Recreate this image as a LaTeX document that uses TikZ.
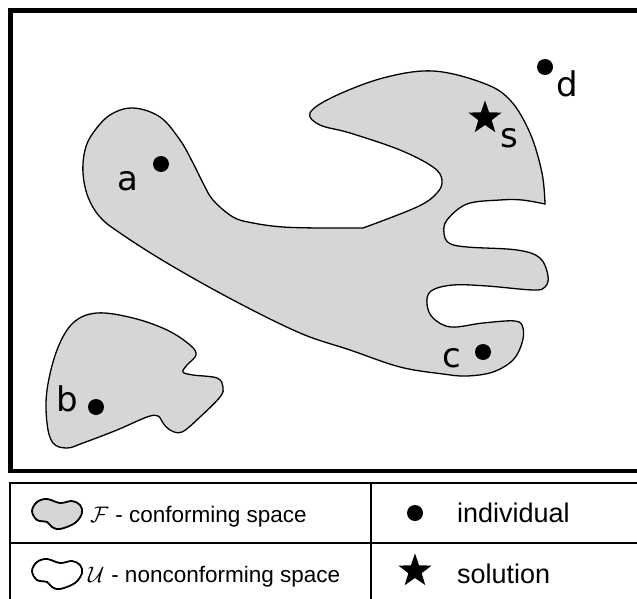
\RequirePackage{fix-cm}
\documentclass[tikz,border=0pt]{standalone}
\usepackage{amsmath}
\usepackage{amssymb}
\usepackage{fontspec}
\setmainfont{Liberation Sans}
\newfontfamily\lblfont{DejaVu Sans}
\usetikzlibrary{shapes.geometric}
\definecolor{blobgray}{RGB}{214,214,214}

\begin{document}
\begin{tikzpicture}[x=1pt, y=-1pt,
		blob/.style={draw, line width=1.3pt, fill=blobgray},
		legblob/.style={draw, line width=1.8pt},
		pt/.style={circle, fill, inner sep=0pt, minimum size=16pt},
		sol/.style={star, star points=5, star point ratio=2.5, fill, inner sep=0pt, minimum size=35pt},
		lbl/.style={font={\lblfont\fontsize{34pt}{34pt}\selectfont}, inner sep=0pt},
		legl/.style={font={\fontsize{22.5pt}{24pt}\selectfont}, inner sep=0pt, anchor=base west},
		legr/.style={font={\fontsize{27pt}{28pt}\selectfont}, inner sep=0pt, anchor=base west}]
			\clip (0,0) rectangle (637,599);
			\draw[blob] plot[smooth, tension=0.6] coordinates {(363,228) (417,207) (437,193) (442,180) (433,167) (400,150) (350,133) (320,125) (310,113) (333,97) (383,78) (433,71) (483,83) (510,100) (530,133) (542,173) (545,204)}
				-- plot[smooth, tension=0.6] coordinates {(545,204) (522,200) (500,200) (467,204) (447,220) (444,233) (449,243) (467,247) (517,250) (540,258) (548,276) (545,287) (533,290) (487,286) (453,285) (431,291) (427,304) (433,318) (451,327) (483,323) (515,321) (523,328) (522,343) (513,360) (493,372) (467,376) (443,374) (400,367) (350,350) (300,333) (233,300) (167,263) (120,233) (100,217) (88,197) (83,173) (85,150) (93,133) (110,115) (133,108) (160,117) (180,140) (193,163) (203,183) (213,200) (233,217) (253,223) (283,227) (320,228)} -- cycle;
			\draw[blob] plot[smooth cycle, tension=0.6] coordinates {(97,313) (133,318) (167,330) (190,345) (196,355) (187,365) (183,372) (193,375) (217,378) (223,387) (220,397) (200,417) (182,432) (170,430) (163,423) (158,416) (147,417) (117,430) (83,443) (67,448) (53,443) (47,423) (47,390) (57,350) (73,323)};
			\node[pt] (a) at (161,164) {};
			\node[pt] (b) at (96,407) {};
			\node[pt] (c) at (483,352) {};
			\node[pt] (d) at (545,67) {};
			\node[sol] (s) at (485,118) {};
			\node[lbl] (la) at (127.5,181) {a};
			\node[lbl] (lb) at (67,399) {b};
			\node[lbl] (lc) at (452,358) {c};
			\node[lbl] (ld) at (567.5,83.5) {d};
			\node[lbl] (ls) at (509,138) {s};
			\draw[line width=4.5pt] (10.5,10.5) rectangle (660,471);
			\draw[line width=1.5pt] (10,483) rectangle (660,620);
			\draw[line width=1.5pt] (10,543) -- (660,543);
			\draw[line width=1.5pt] (371,483) -- (371,620);
			\foreach \dy/\col in {0/blobgray,60/white}
				\draw[legblob, fill=\col, shift={(0,\dy)}] plot[smooth cycle, tension=0.6] coordinates {(32,511) (37,502) (47,499) (60,503) (72,501) (80,505) (82,513) (75,523) (60,529) (52,527) (47,522) (37,520)};
			\node[legl] (tf) at (90,522) {$\mathcal{F}$\hspace{0.3em}- conforming space};
			\node[legl] (tu) at (88,582) {$\mathcal{U}$\hspace{0.3em}- nonconforming space};
			\node[pt] (li) at (415,513) {};
			\node[legr] (ti) at (457,522) {individual};
			\node[sol] (ls2) at (415,571) {};
			\node[legr] (ts) at (457,583) {solution};
		\end{tikzpicture}
\end{document}
